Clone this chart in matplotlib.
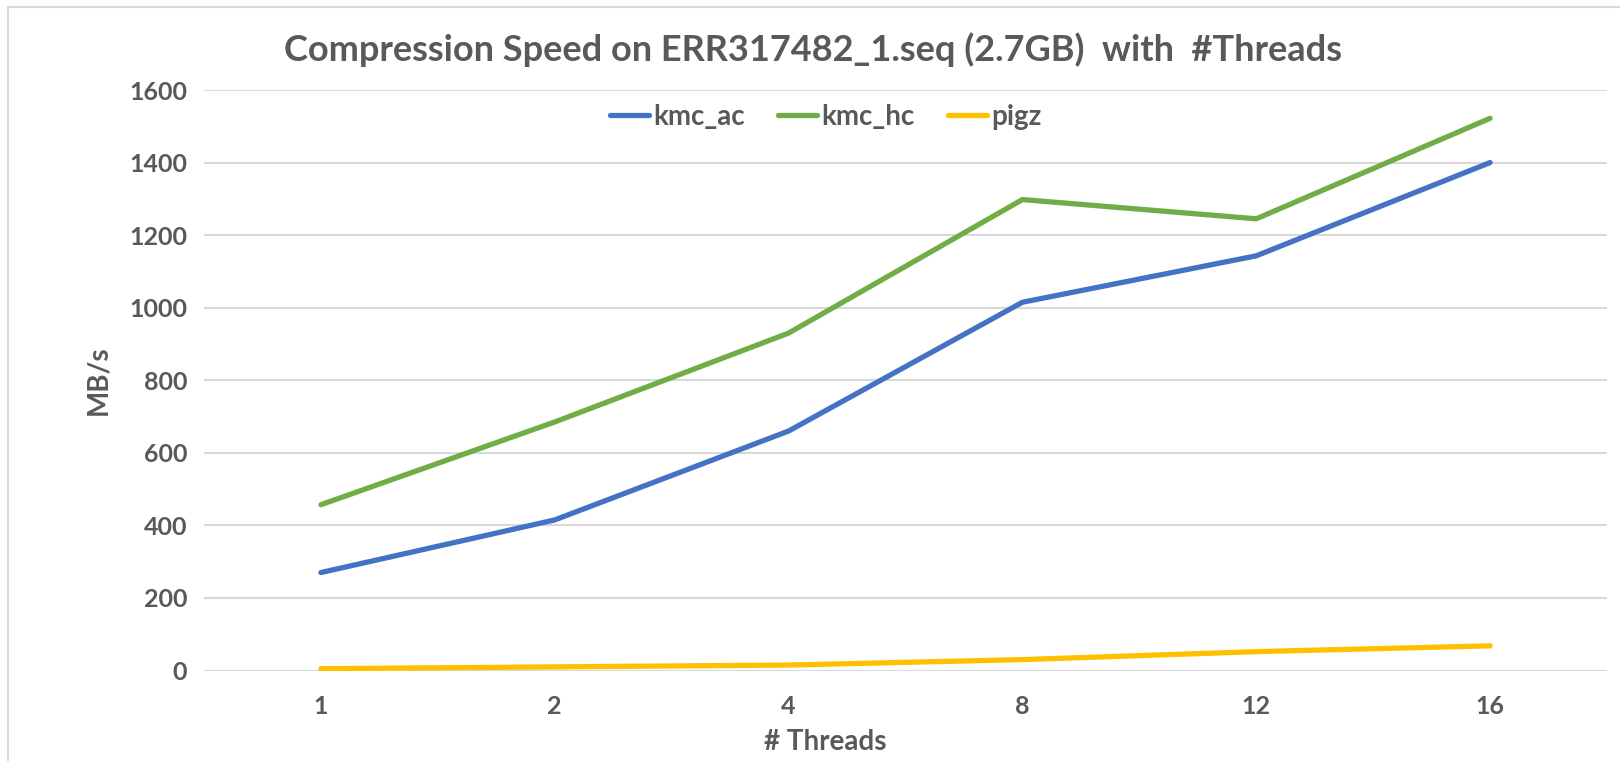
import matplotlib
matplotlib.use("Agg")
import matplotlib.pyplot as plt
from matplotlib.patches import Rectangle

# data
threads = ["1", "2", "4", "8", "12", "16"]
kmc_ac = [270, 415, 660, 1015, 1143, 1400]
kmc_hc = [457, 685, 930, 1298, 1245, 1522]
pigz = [5, 10, 15, 30, 52, 68]

plt.rcParams['font.family'] = ['Lato', 'DejaVu Sans']
grey = '#595959'

W, H = 1620, 761
fig = plt.figure(figsize=(W / 100, H / 100), dpi=100)
ax = fig.add_axes([204 / W, 1 - 670.5 / H, (1607 - 204) / W, (670.5 - 90) / H])

# light chart-area border
fig.patches.append(Rectangle((8 / W, -0.1), 1.2, 1 - 7 / H + 0.1, transform=fig.transFigure,
                             fill=False, edgecolor='#D9D9D9', linewidth=1.5))

x = range(len(threads))
ax.plot(x, kmc_ac, color='#4472C4', lw=3.8, label='kmc_ac', solid_capstyle='round')
ax.plot(x, kmc_hc, color='#70AD47', lw=3.8, label='kmc_hc', solid_capstyle='round')
ax.plot(x, pigz, color='#FFC000', lw=3.8, label='pigz', solid_capstyle='round')

ax.set_xlim(-0.5, len(threads) - 0.5)
ax.set_ylim(0, 1600)
ax.set_yticks(range(0, 1601, 200))
ax.set_xticks(list(x))
ax.set_xticklabels(threads)
ax.grid(axis='y', color='#D9D9D9', lw=1.5)
ax.set_axisbelow(True)
for s in ax.spines.values():
    s.set_visible(False)
ax.tick_params(length=0, labelsize=18, labelcolor=grey, pad=12)
for t in ax.get_xticklabels() + ax.get_yticklabels():
    t.set_fontweight('bold')
ax.tick_params(axis='x', pad=18)

fig.text(813 / W, 1 - 50 / H, 'Compression Speed on ERR317482_1.seq (2.7GB)  with  #Threads',
         ha='center', va='center', fontsize=26, fontweight='bold', color=grey)
fig.text(825 / W, 1 - 742 / H, '# Threads', ha='center', va='center',
         fontsize=20, fontweight='bold', color=grey)
fig.text(98 / W, 1 - 380 / H, 'MB/s', ha='center', va='center', rotation=90,
         fontsize=20, fontweight='bold', color=grey)

leg = fig.legend(loc='center', bbox_to_anchor=(826 / W, 1 - 117 / H), ncol=3, frameon=False,
                 fontsize=20, handlelength=1.4, handletextpad=0.15, columnspacing=1.2)
for t in leg.get_texts():
    t.set_color(grey)
    t.set_fontweight('bold')

fig.savefig('out.png', dpi=100)
